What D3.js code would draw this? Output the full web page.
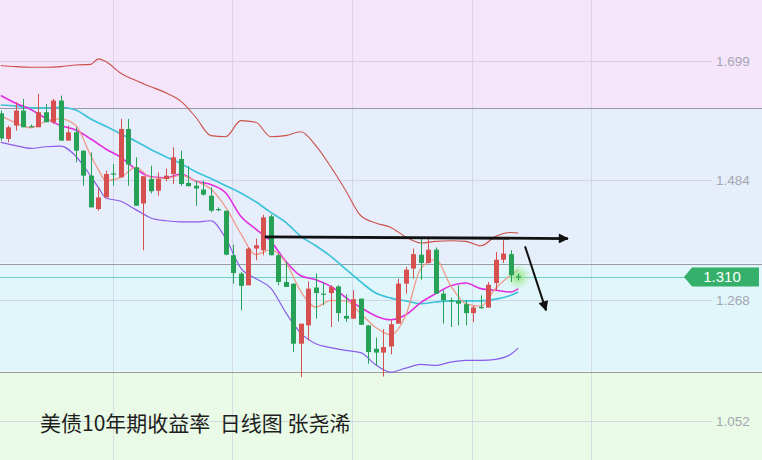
<!DOCTYPE html>
<html><head><meta charset="utf-8">
<script src="https://cdn.jsdelivr.net/npm/d3@7"></script>
<style>html,body{margin:0;padding:0;background:#fff;overflow:hidden}svg{display:block}</style>
</head><body>
<svg id="c" width="762" height="460"></svg>
<script>
// ---------- data ----------
const open = [1.604,1.558,1.582,1.609,1.581,1.579,1.606,1.588,1.627,1.555,
 1.570,1.537,1.492,1.432,1.453,1.496,1.489,1.576,1.507,1.442,
 1.486,1.465,1.486,1.495,1.522,1.479,1.474,1.467,1.456,1.432,
 1.429,1.349,1.316,1.295,1.361,1.358,1.419,1.349,1.301,1.298,
 1.190,1.223,1.291,1.280,1.281,1.293,1.240,1.235,1.271,1.223,
 1.181,1.174,1.185,1.226,1.298,1.325,1.350,1.335,1.359,1.280,
 1.268,1.267,1.261,1.245,1.256,1.255,1.299,1.341,1.351,1.311];
const close = [1.559,1.579,1.609,1.579,1.580,1.606,1.588,1.627,1.555,1.570,
 1.537,1.492,1.435,1.453,1.495,1.494,1.576,1.512,1.438,1.491,
 1.464,1.486,1.492,1.525,1.477,1.473,1.469,1.458,1.429,1.430,
 1.350,1.317,1.294,1.361,1.367,1.417,1.349,1.301,1.292,1.190,
 1.226,1.289,1.281,1.278,1.292,1.245,1.235,1.270,1.224,1.175,
 1.174,1.184,1.225,1.298,1.323,1.351,1.335,1.359,1.280,1.268,
 1.266,1.262,1.245,1.255,1.255,1.296,1.341,1.352,1.313,1.310];
const high = [1.609,1.582,1.624,1.630,1.584,1.639,1.621,1.630,1.636,1.582,
 1.579,1.537,1.534,1.471,1.501,1.513,1.594,1.594,1.525,1.491,
 1.510,1.498,1.505,1.543,1.537,1.509,1.483,1.483,1.471,1.435,
 1.429,1.368,1.319,1.363,1.379,1.422,1.422,1.352,1.337,1.298,
 1.226,1.302,1.316,1.300,1.295,1.295,1.279,1.286,1.271,1.223,
 1.201,1.216,1.232,1.307,1.328,1.361,1.379,1.379,1.363,1.286,
 1.273,1.295,1.268,1.259,1.277,1.301,1.355,1.376,1.358,1.316];
const low = [1.555,1.552,1.573,1.579,1.579,1.579,1.588,1.585,1.555,1.555,
 1.516,1.474,1.435,1.429,1.453,1.474,1.489,1.474,1.438,1.358,
 1.460,1.456,1.482,1.477,1.474,1.473,1.438,1.456,1.426,1.428,
 1.349,1.298,1.250,1.295,1.340,1.349,1.349,1.295,1.292,1.175,
 1.130,1.196,1.235,1.259,1.220,1.230,1.229,1.235,1.224,1.154,
 1.151,1.131,1.171,1.226,1.280,1.307,1.305,1.334,1.280,1.226,
 1.220,1.223,1.223,1.229,1.253,1.255,1.286,1.335,1.301,1.304];

const lineIdx = [0,2,4,6,8,10,12,13,14,16,18,20,22,24,26,28,30,32,34,36,38,40,42,44,46,48,50,52,54,56,58,60,62,64,66,68,69];
const bbUpper = [1.690,1.688,1.687,1.687,1.688,1.691,1.692,1.702,1.697,1.676,1.663,1.652,1.641,1.626,1.597,1.564,1.562,1.591,1.588,1.562,1.564,1.571,1.546,1.508,1.465,1.420,1.407,1.399,1.382,1.371,1.374,1.375,1.374,1.366,1.383,1.390,1.389];
const bbLower = [1.552,1.546,1.541,1.544,1.545,1.527,1.491,1.471,1.452,1.446,1.431,1.416,1.411,1.409,1.409,1.411,1.379,1.326,1.307,1.290,1.246,1.209,1.190,1.183,1.178,1.174,1.152,1.139,1.146,1.153,1.151,1.157,1.160,1.160,1.162,1.171,1.182];
const maMid = [1.636,1.622,1.611,1.595,1.582,1.574,1.558,1.549,1.540,1.525,1.504,1.490,1.488,1.495,1.482,1.476,1.461,1.419,1.396,1.374,1.338,1.312,1.305,1.293,1.273,1.255,1.240,1.233,1.242,1.264,1.280,1.294,1.299,1.289,1.286,1.283,1.289];
const maSlow = [1.619,1.617,1.614,1.614,1.615,1.610,1.594,1.587,1.581,1.567,1.554,1.539,1.526,1.514,1.499,1.487,1.474,1.461,1.445,1.426,1.408,1.383,1.366,1.347,1.324,1.301,1.281,1.272,1.267,1.262,1.265,1.267,1.267,1.267,1.270,1.277,1.283];
const maFast = [1.600,1.587,1.578,1.590,1.594,1.582,1.528,1.503,1.483,1.489,1.507,1.489,1.487,1.493,1.482,1.468,1.435,1.388,1.350,1.359,1.336,1.284,1.256,1.268,1.267,1.244,1.219,1.206,1.241,1.325,1.341,1.294,1.262,1.257,1.290,1.313,1.323];

const yTicks = [1.699, 1.484, 1.268, 1.052];
const levels = [1.613, 1.334, 1.140];
const lastPrice = 1.310;
// annotation arrows in data space: [index, value]
const arrowFlat = [[35.2, 1.382], [75.6, 1.379]];
const arrowDown = [[69.9, 1.365], [72.7, 1.250]];
const title = "美债10年期收益率\u00a0\u00a0日线图\u00a0张尧浠";

// ---------- layout ----------
const W = 762, H = 460;
const svg = d3.select("#c");
const x = d3.scaleLinear().domain([0, 69]).range([0.8, 518.3]);
const y = d3.scaleLinear().domain([1.052, 1.699]).range([420.5, 60.5]);

// background bands
const bandEdges = [0, y(levels[0]), y(levels[1]), y(levels[2]), H];
const bandColors = ["#f4e5fb", "#e6eefc", "#e1f6fb", "#e9fae6"];
svg.append("g").selectAll("rect").data(bandColors).join("rect")
  .attr("x", 0).attr("width", W)
  .attr("y", (d, i) => bandEdges[i])
  .attr("height", (d, i) => bandEdges[i + 1] - bandEdges[i])
  .attr("fill", d => d);

// grid
const grid = svg.append("g");
const gridX = [113, 232, 352, 472, 591];
grid.selectAll("line.v").data(gridX).join("line")
  .attr("x1", d => d + 0.5).attr("x2", d => d + 0.5).attr("y1", 0).attr("y2", H)
  .attr("stroke", "#c9c9dc").attr("stroke-opacity", 0.6).attr("stroke-width", 1);
grid.selectAll("line.h").data(yTicks).join("line")
  .attr("x1", 0).attr("x2", 712).attr("y1", d => Math.round(y(d)) + 0.5).attr("y2", d => Math.round(y(d)) + 0.5)
  .attr("stroke", "#c9c9dc").attr("stroke-opacity", 0.7).attr("stroke-width", 1);

// level lines
svg.append("g").selectAll("line").data(levels).join("line")
  .attr("x1", 0).attr("x2", W)
  .attr("y1", d => Math.round(y(d)) + 0.5).attr("y2", d => Math.round(y(d)) + 0.5)
  .attr("stroke", "#9a9aa4").attr("stroke-width", 1);

// last price line
svg.append("line").attr("x1", 0).attr("x2", 690)
  .attr("y1", Math.round(y(lastPrice)) + 0.5).attr("y2", Math.round(y(lastPrice)) + 0.5)
  .attr("stroke", "#72d0c6").attr("stroke-width", 1);

// axis labels
svg.append("g").selectAll("text").data(yTicks).join("text")
  .attr("x", 716).attr("y", d => y(d) + 5)
  .attr("font-family", "Liberation Sans, Arial, sans-serif").attr("font-size", 13.5)
  .attr("fill", "#a4a6b2").text(d => d.toFixed(3));

// indicator lines
const lineGen = d3.line().x((d, i) => x(lineIdx[i])).y(d => y(d)).curve(d3.curveMonotoneX);
const lines = [
  {d: bbUpper, c: "#cc5048", w: 1.1},
  {d: bbLower, c: "#8a5ce8", w: 1.2},
  {d: maSlow, c: "#3cc3da", w: 1.7},
  {d: maMid, c: "#e32ee0", w: 1.6},
  {d: maFast, c: "#f09a88", w: 1.3}
];
svg.append("g").selectAll("path").data(lines).join("path")
  .attr("d", l => lineGen(l.d)).attr("fill", "none")
  .attr("stroke", l => l.c).attr("stroke-width", l => l.w);

// candles
const red = "#d6504f", green = "#27a155";
const cg = svg.append("g");
const idx = open.map((d, i) => i);
const col = i => close[i] > open[i] ? red : green;
cg.selectAll("line").data(idx).join("line")
  .attr("x1", i => Math.round(x(i)) + 0.5).attr("x2", i => Math.round(x(i)) + 0.5)
  .attr("y1", i => y(high[i])).attr("y2", i => y(low[i]))
  .attr("stroke", col).attr("stroke-width", 1);
cg.selectAll("rect").data(idx).join("rect")
  .attr("x", i => Math.round(x(i)) - 2).attr("width", 5)
  .attr("y", i => y(Math.max(open[i], close[i])))
  .attr("height", i => Math.max(1.2, Math.abs(y(open[i]) - y(close[i]))))
  .attr("fill", col);

// glow on last candle
const defs = svg.append("defs");
const rg = defs.append("radialGradient").attr("id", "glow");
rg.append("stop").attr("offset", "0%").attr("stop-color", "#7ee06a").attr("stop-opacity", 0.9);
rg.append("stop").attr("offset", "100%").attr("stop-color", "#b6f0a0").attr("stop-opacity", 0);
svg.append("circle").attr("cx", x(69)).attr("cy", y(lastPrice)).attr("r", 13).attr("fill", "url(#glow)");
cg.raise();

// arrows
const mk = defs.append("marker").attr("id", "ah").attr("viewBox", "0 0 10 10")
  .attr("refX", 9).attr("refY", 5).attr("markerUnits", "userSpaceOnUse")
  .attr("markerWidth", 14).attr("markerHeight", 10).attr("orient", "auto");
mk.append("path").attr("d", "M0,0 L10,5 L0,10 Z").attr("fill", "#111");
const aLine = d3.line().x(d => x(d[0])).y(d => y(d[1]));
svg.append("path").attr("d", aLine(arrowFlat)).attr("stroke", "#111").attr("stroke-width", 2.8)
  .attr("fill", "none").attr("marker-end", "url(#ah)");
svg.append("path").attr("d", aLine(arrowDown)).attr("stroke", "#111").attr("stroke-width", 2)
  .attr("fill", "none").attr("marker-end", "url(#ah)");

// price tag
const py = y(lastPrice);
svg.append("path")
  .attr("d", `M684,${py} L692,${py - 9.5} L759,${py - 9.5} L759,${py + 9.5} L692,${py + 9.5} Z`)
  .attr("fill", "#35b06b");
svg.append("text").attr("x", 722).attr("y", py + 5.5).attr("text-anchor", "middle")
  .attr("font-family", "Liberation Sans, Arial, sans-serif").attr("font-size", 15)
  .attr("fill", "#fff").text(lastPrice.toFixed(3));

// title
svg.append("text").attr("x", 40).attr("y", 431)
  .attr("font-family", "Noto Sans CJK SC, sans-serif").attr("font-size", 21)
  .attr("fill", "#1e1e1e").text(title);
</script>
</body></html>
